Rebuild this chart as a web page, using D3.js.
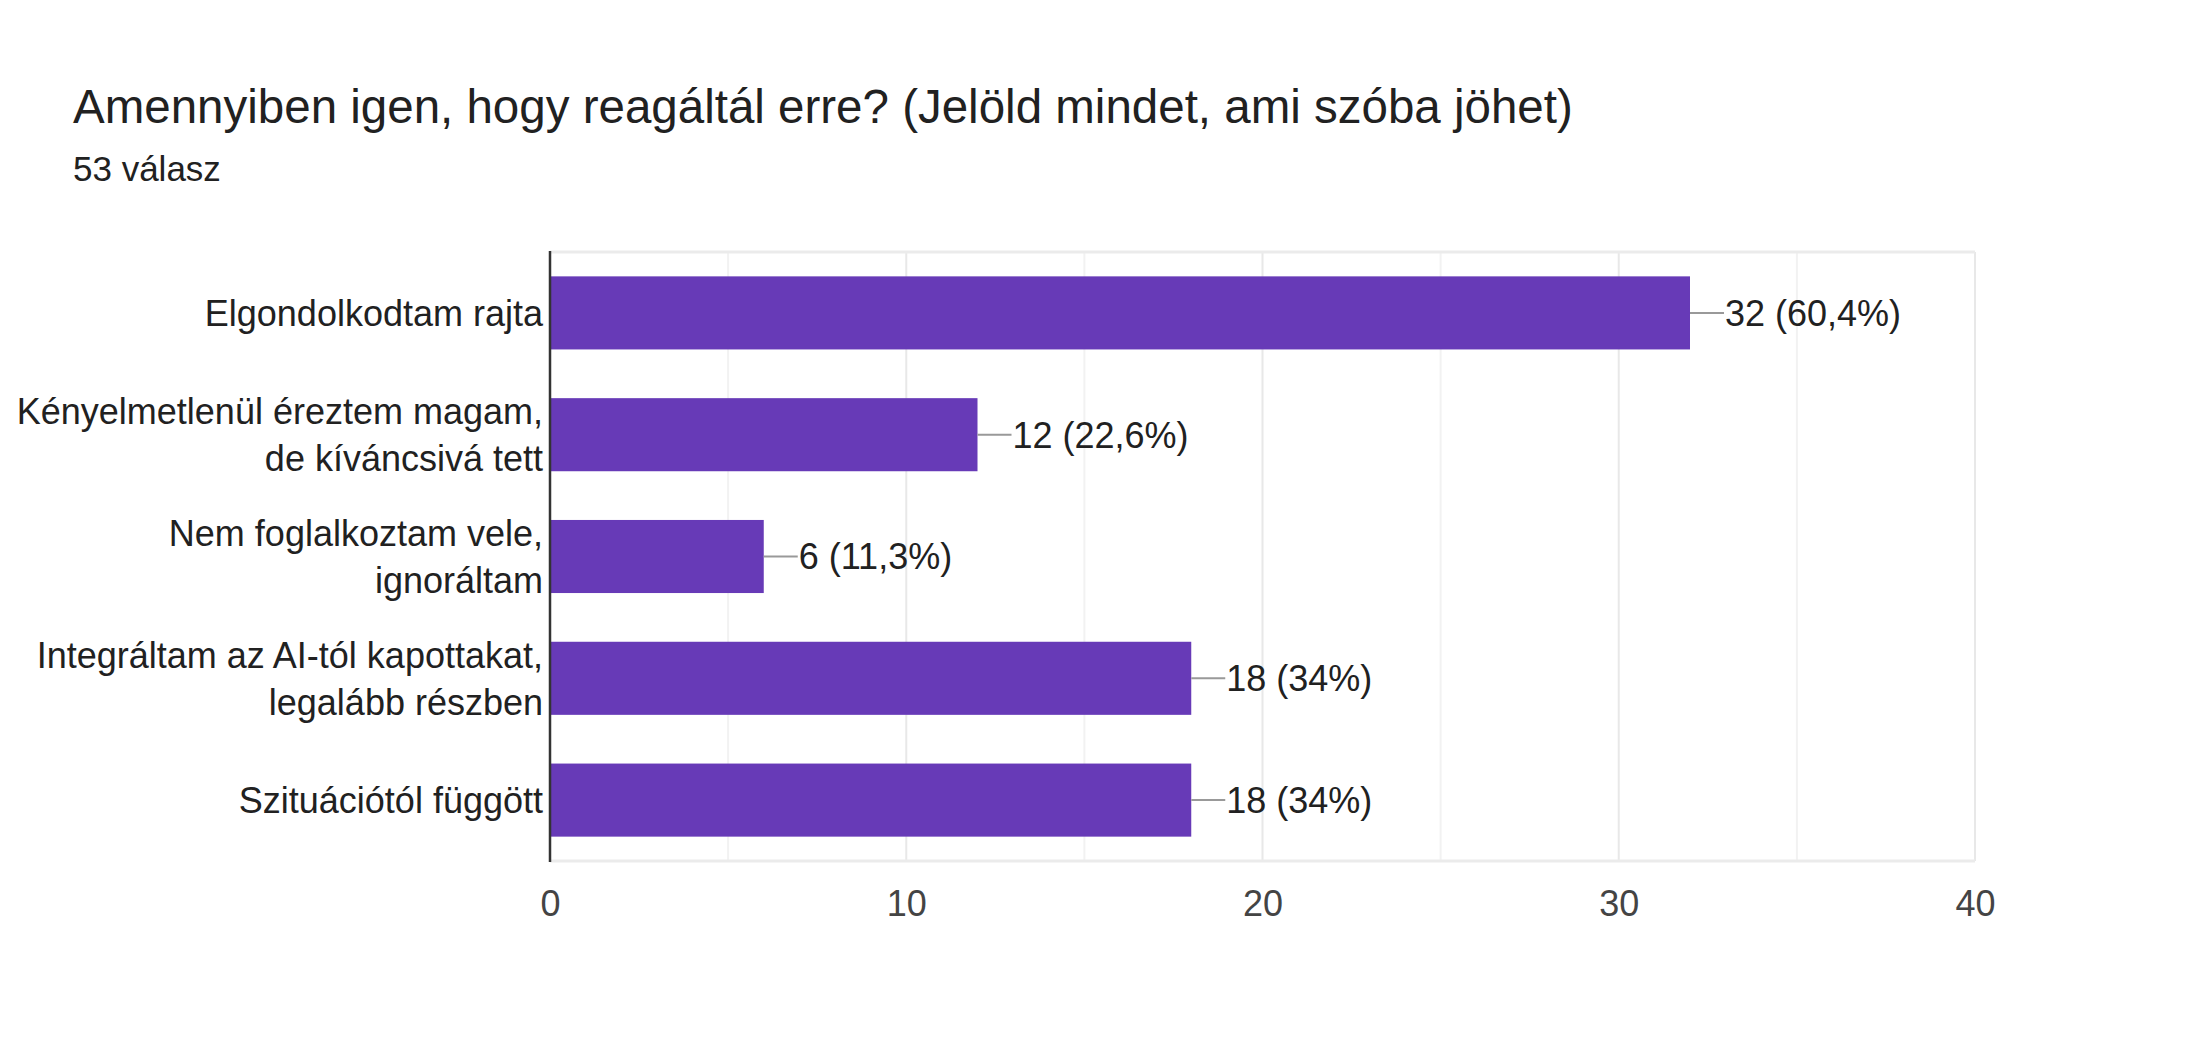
<!DOCTYPE html>
<html>
<head>
<meta charset="utf-8">
<script src="https://cdn.jsdelivr.net/npm/d3@7"></script>
<style>
  html, body { margin: 0; padding: 0; background: #FFFFFF; }
</style>
</head>
<body>
<script>
const WIDTH = 2196;
const HEIGHT = 1044;
const FONT = '"Liberation Sans", Arial, Helvetica, sans-serif';
const TEXT = '#212121';

const categories = [
  ['Elgondolkodtam rajta'],
  ['Kényelmetlenül éreztem magam,', 'de kíváncsivá tett'],
  ['Nem foglalkoztam vele,', 'ignoráltam'],
  ['Integráltam az AI-tól kapottakat,', 'legalább részben'],
  ['Szituációtól függött']
];
const counts = [32, 12, 6, 18, 18];
const percents = ['60,4%', '22,6%', '11,3%', '34%', '34%'];
const xTicks = [0, 10, 20, 30, 40];
const xGrid = [5, 10, 15, 20, 25, 30, 35, 40];

const svg = d3.select('body').append('svg')
  .attr('width', WIDTH)
  .attr('height', HEIGHT)
  .style('display', 'block');

svg.append('text')
  .attr('x', 73).attr('y', 123)
  .attr('fill', TEXT)
  .attr('font-family', FONT)
  .attr('font-size', 47.5)
  .text('Amennyiben igen, hogy reagáltál erre? (Jelöld mindet, ami szóba jöhet)');

svg.append('text')
  .attr('x', 73).attr('y', 181)
  .attr('fill', TEXT)
  .attr('font-family', FONT)
  .attr('font-size', 35)
  .text('53 válasz');

const plotL = 550, plotR = 1975, plotT = 252, plotB = 861;

const x = d3.scaleLinear().domain([0, 40]).range([plotL, plotR]);
const y = d3.scaleBand().domain(d3.range(counts.length)).range([plotT, plotB])
  .paddingInner(0.4).paddingOuter(0.2);

// grid
svg.append('g').selectAll('line').data(xGrid).join('line')
  .attr('x1', d => x(d)).attr('x2', d => x(d))
  .attr('y1', plotT).attr('y2', plotB)
  .attr('stroke', d => d % 10 === 0 ? '#E8E8E8' : '#F2F2F2')
  .attr('stroke-width', 2);

svg.append('line')
  .attr('x1', plotL).attr('x2', plotR)
  .attr('y1', plotT).attr('y2', plotT)
  .attr('stroke', '#EBEBEB').attr('stroke-width', 3);
svg.append('line')
  .attr('x1', plotL).attr('x2', plotR)
  .attr('y1', plotB).attr('y2', plotB)
  .attr('stroke', '#EBEBEB').attr('stroke-width', 3);

// bars
svg.append('g').selectAll('rect').data(counts).join('rect')
  .attr('x', x(0))
  .attr('y', (d, i) => y(i))
  .attr('width', d => x(d) - x(0))
  .attr('height', y.bandwidth())
  .attr('fill', '#673AB7');

// leader lines + value labels
svg.append('g').selectAll('line').data(counts).join('line')
  .attr('x1', d => x(d)).attr('x2', d => x(d) + 34)
  .attr('y1', (d, i) => y(i) + y.bandwidth() / 2)
  .attr('y2', (d, i) => y(i) + y.bandwidth() / 2)
  .attr('stroke', '#999999').attr('stroke-width', 2);

svg.append('g').selectAll('text').data(counts).join('text')
  .attr('x', d => x(d) + 35)
  .attr('y', (d, i) => y(i) + y.bandwidth() / 2)
  .attr('dy', '0.36em')
  .attr('fill', TEXT)
  .attr('font-family', FONT)
  .attr('font-size', 36)
  .text((d, i) => `${d} (${percents[i]})`);

// axis line
svg.append('line')
  .attr('x1', plotL).attr('x2', plotL)
  .attr('y1', plotT - 1).attr('y2', plotB + 1)
  .attr('stroke', '#333333').attr('stroke-width', 2.5);

// category labels
const lineH = 47;
const cat = svg.append('g').selectAll('text').data(categories).join('text')
  .attr('text-anchor', 'end')
  .attr('fill', TEXT)
  .attr('font-family', FONT)
  .attr('font-size', 36);
cat.each(function (lines, i) {
  const cy = y(i) + y.bandwidth() / 2;
  const y0 = cy - (lines.length - 1) * lineH / 2;
  d3.select(this).selectAll('tspan').data(lines).join('tspan')
    .attr('x', 543)
    .attr('y', (l, j) => y0 + j * lineH)
    .attr('dy', '0.36em')
    .text(l => l);
});

// x tick labels
const xAxis = d3.axisBottom(x).tickValues(xTicks).tickSize(0).tickPadding(0);
const gx = svg.append('g').attr('transform', `translate(0,${plotB + 42})`).call(xAxis);
gx.select('.domain').remove();
gx.selectAll('text')
  .attr('font-family', FONT)
  .attr('font-size', 36)
  .attr('fill', '#444444')
  .attr('dy', '0.36em')
  .attr('y', 0);
</script>
</body>
</html>
